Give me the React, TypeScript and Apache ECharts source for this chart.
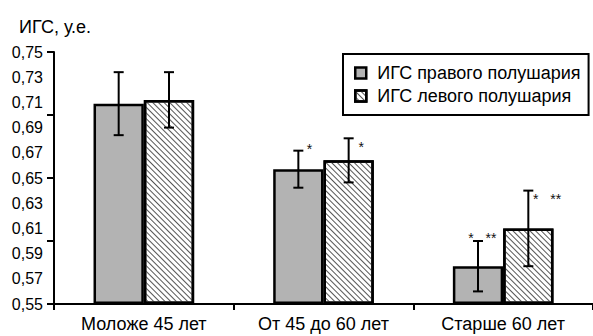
import React, { useEffect, useRef } from "react";
import * as echarts from "echarts";

const categories = ["Моложе 45 лет", "От 45 до 60 лет", "Старше 60 лет"];
const seriesNames = ["ИГС правого полушария", "ИГС левого полушария"];
const rightValues = [0.709, 0.657, 0.58];
const rightErrors = [0.025, 0.0147, 0.02];
const leftValues = [0.712, 0.664, 0.61];
const leftErrors = [0.022, 0.0175, 0.03];
const rightStars = ["", "*", "*   **"];
const leftStars = ["", "*", "*   **"];
const axisTitle = "ИГС, у.е.";
const yMin = 0.55;
const yMax = 0.75;
const labelStep = 0.02;
const tickStep = 0.05;

// star placement styles (offset from error bar top, px)
const rightStarOffsets = [null, { dx: 9, dy: -5 }, { dx: -9, dy: -6 }];
const leftStarOffsets = [null, { dx: 10.5, dy: 6 }, { dx: 5.5, dy: 5 }];

const FONT = "'Liberation Sans', Arial, sans-serif";

export default function App() {
  const ref = useRef<HTMLDivElement>(null);
  useEffect(() => {
    if (!ref.current) return;
    const chart = echarts.init(ref.current, undefined, { renderer: "svg" });

    const makeErr = (vals: number[], errs: number[]) =>
      vals.map((v, i) => [i, v - errs[i] - yMin, v + errs[i] - yMin]);

    const errSeries = (
      vals: number[],
      errs: number[],
      sign: number,
      stars: string[],
      offs: any[]
    ) => ({
      type: "custom",
      z: 5,
      silent: true,
      data: makeErr(vals, errs),
      renderItem: (params: any, api: any) => {
        const cat = api.value(0);
        const lo = api.value(1);
        const hi = api.value(2);
        const band = api.size([1, 0])[0];
        const cx = api.coord([cat, 0])[0] + sign * band * 0.14;
        const yTop = api.coord([cat, hi])[1];
        const yBot = api.coord([cat, lo])[1];
        const ls = { stroke: "#000", lineWidth: 2 };
        const children: any[] = [
          { type: "line", shape: { x1: cx, y1: yTop, x2: cx, y2: yBot }, style: ls },
          { type: "line", shape: { x1: cx - 5, y1: yTop, x2: cx + 5, y2: yTop }, style: ls },
          { type: "line", shape: { x1: cx - 5, y1: yBot, x2: cx + 5, y2: yBot }, style: ls },
        ];
        const s = stars[cat];
        const o = offs[cat];
        if (s && o) {
          children.push({
            type: "text",
            style: {
              text: s,
              x: cx + o.dx - 0.7,
              y: yTop + o.dy + 3,
              fill: "#111",
              font: `14px ${FONT}`,
              textAlign: "left",
              textVerticalAlign: "middle",
            },
          });
        }
        return { type: "group", children };
      },
    });

    chart.setOption({
      animation: false,
      title: {
        text: axisTitle,
        left: 14,
        top: 13,
        textStyle: { fontFamily: FONT, fontSize: 18, fontWeight: "normal", color: "#000" },
      },
      legend: {
        left: 343,
        top: 54,
        orient: "vertical",
        data: seriesNames,
        icon: "rect",
        itemWidth: 11,
        itemHeight: 11,
        itemGap: 5,
        padding: [10, 8, 10, 11],
        borderColor: "#000",
        borderWidth: 2,
        backgroundColor: "#fff",
        itemStyle: { borderColor: "#000", borderWidth: 2.5 },
        textStyle: {
          fontFamily: FONT,
          fontSize: 18,
          color: "#000",
          lineHeight: 16,
          padding: [0, 0, 0, 6],
        },
      },
      grid: { left: 54, right: -12, top: 52, bottom: 32, containLabel: false },
      xAxis: {
        type: "category",
        data: categories,
        axisLine: { lineStyle: { color: "#000", width: 2 } },
        axisTick: { show: true, length: 6, lineStyle: { color: "#000", width: 2 } },
        axisLabel: { fontFamily: FONT, fontSize: 18, color: "#000", margin: 11 },
      },
      yAxis: [
        {
          type: "value",
          min: 0,
          max: yMax - yMin,
          interval: labelStep,
          axisLine: { show: true, lineStyle: { color: "#000", width: 2 } },
          axisTick: { show: false },
          splitLine: { show: false },
          axisLabel: {
            fontFamily: FONT,
            fontSize: 16,
            color: "#000",
            margin: 11,
            formatter: (v: number) => (v + yMin).toFixed(2).replace(".", ","),
          },
        },
        {
          type: "value",
          position: "left",
          min: 0,
          max: yMax - yMin,
          interval: tickStep,
          axisLine: { show: false },
          axisTick: { show: true, length: 7, lineStyle: { color: "#000", width: 2 } },
          axisLabel: { show: false },
          splitLine: { show: false },
        },
      ],
      series: [
        {
          name: seriesNames[0],
          type: "bar",
          barWidth: "28%",
          barGap: "0%",
          data: rightValues.map((v) => v - yMin),
          itemStyle: { color: "#b3b3b3", borderColor: "#000", borderWidth: 2.5 },
        },
        {
          name: seriesNames[1],
          type: "bar",
          barWidth: "28%",
          barGap: "0%",
          data: leftValues.map((v) => v - yMin),
          itemStyle: {
            color: "#ffffff",
            borderColor: "#000",
            borderWidth: 2.5,
            decal: {
              symbol: "rect",
              symbolSize: 1,
              color: "#555",
              backgroundColor: "#fff",
              dashArrayX: [1, 0],
              dashArrayY: [1, 2.5],
              rotation: Math.PI / 4,
            },
          },
        },
        errSeries(rightValues, rightErrors, -1, rightStars, rightStarOffsets),
        errSeries(leftValues, leftErrors, 1, leftStars, leftStarOffsets),
      ],
    });
    return () => chart.dispose();
  }, []);
  return (
    <div
      ref={ref}
      style={{ position: "fixed", left: 0, top: 0, width: 593, height: 336, background: "#fff" }}
    />
  );
}
